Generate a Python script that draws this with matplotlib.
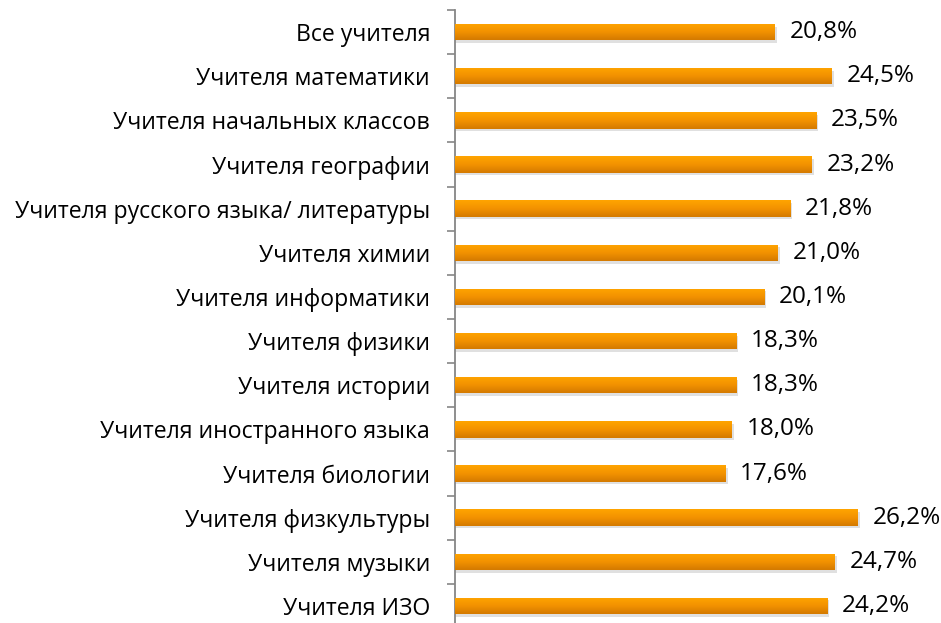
import matplotlib
matplotlib.use("Agg")
import matplotlib.pyplot as plt
import numpy as np
from matplotlib.colors import LinearSegmentedColormap

categories = [
    "Все учителя",
    "Учителя математики",
    "Учителя начальных классов",
    "Учителя географии",
    "Учителя русского языка/ литературы",
    "Учителя химии",
    "Учителя информатики",
    "Учителя физики",
    "Учителя истории",
    "Учителя иностранного языка",
    "Учителя биологии",
    "Учителя физкультуры",
    "Учителя музыки",
    "Учителя ИЗО",
]
values = [20.8, 24.5, 23.5, 23.2, 21.8, 21.0, 20.1, 18.3, 18.3, 18.0, 17.6, 26.2, 24.7, 24.2]
labels = ["20,8%", "24,5%", "23,5%", "23,2%", "21,8%", "21,0%", "20,1%",
          "18,3%", "18,3%", "18,0%", "17,6%", "26,2%", "24,7%", "24,2%"]

plt.rcParams['font.family'] = ['Open Sans', 'DejaVu Sans']

fig = plt.figure(figsize=(9.41, 6.23), dpi=100)
H = 623.0
ax = fig.add_axes([455/941, 1 - 628/H, 1 - 455/941, (628 - 10)/H])

n = len(categories)
y = np.arange(n)
bh = 0.37
cmap = LinearSegmentedColormap.from_list("o", ["#FFA500", "#F39200", "#D47A00"])
grad = np.linspace(0, 1, 64).reshape(-1, 1)

for yi, v, lab in zip(y, values, labels):
    # shadow
    ax.barh(yi + 0.06, v + 0.12, height=bh, color="#000000", alpha=0.12, zorder=1, linewidth=0)
    bar = ax.barh(yi, v, height=bh, color="#F39200", zorder=2, linewidth=0)[0]
    im = ax.imshow(grad, cmap=cmap, aspect="auto", extent=[0, v, yi + bh/2, yi - bh/2],
                   zorder=3, interpolation="bicubic")
    im.set_clip_path(bar)
    ax.text(v + 0.95, yi, lab, va="center", ha="left", fontsize=17.5, color="#000000")

ax.set_xlim(0, 31.6)
ax.set_ylim(n - 0.5, -0.5)
ax.set_yticks(y)
ax.set_yticklabels(categories, fontsize=16.6)
ax.set_yticks(np.arange(-0.5, n, 1), minor=True)
ax.tick_params(axis="y", which="major", length=0, pad=18)
ax.tick_params(axis="y", which="minor", length=6, color="#868686", width=1.2)
ax.set_xticks([])
for s in ["top", "right", "bottom"]:
    ax.spines[s].set_visible(False)
ax.spines["left"].set_color("#868686")
ax.spines["left"].set_linewidth(1.3)

fig.savefig("out.png", dpi=100)
